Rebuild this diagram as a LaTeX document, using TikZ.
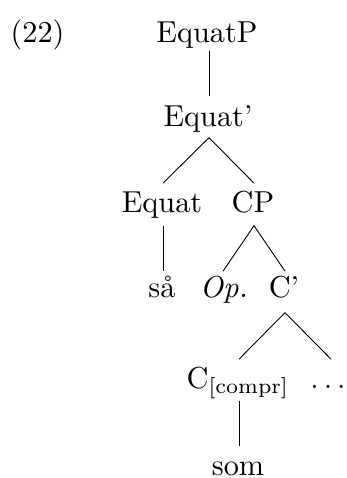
\documentclass[tikz,border=0pt]{standalone}
\usetikzlibrary{calc}
\begin{document}
\begin{tikzpicture}[x=0.33pt,y=-0.33pt,
  lbl/.style={anchor=base,inner sep=0pt,text height=7pt,text depth=2pt},
  br/.style={line width=0.3pt}]
\useasboundingbox (0,0) rectangle (347,478);
\node[lbl,anchor=base west] (num) at (10,43) {(22)};
\node[lbl] (equatp) at (207,43) {EquatP};
\node[lbl] (equatbar) at (208,127) {Equat'};
\node[lbl] (equat) at (162,213) {Equat};
\node[lbl] (cp) at (253,213) {CP};
\node[lbl] (sa) at (162,298) {så};
\node[lbl] (op) at (224,298) {\textit{Op.}};
\node[lbl] (cbar) at (284,298) {C'};
\node[lbl] (c) at (238,388) {C$_{\mathrm{[compr]}}$};
\node[lbl] (dots) at (328,388) {$\ldots$};
\node[lbl] (som) at (238,475) {som};
% branches
\draw[br] ($(equatp.south)+(2,1)$) -- ($(equatbar.north)+(1,-9)$);
\draw[br] ($(equatbar.south)+(1,4)$) -- ($(equat.north)+(1,-8)$);
\draw[br] ($(equatbar.south)+(1,4)$) -- ($(cp.north)+(1,-8)$);
\draw[br] ($(equat.south)+(1,6)$) -- ($(sa.north)+(1,-5)$);
\draw[br] ($(cp.south)+(1,6)$) -- ($(op.north)+(-1,-5)$);
\draw[br] ($(cp.south)+(1,6)$) -- ($(cbar.north)+(1,-5)$);
\draw[br] ($(cbar.south)+(1,8)$) -- ($(c.north)+(1,-7)$);
\draw[br] ($(cbar.south)+(1,8)$) -- ($(dots.north)+(3,-7)$);
\draw[br] ($(c.south)+(1,6)$) -- ($(som.north)+(1,-7)$);
\end{tikzpicture}
\end{document}
